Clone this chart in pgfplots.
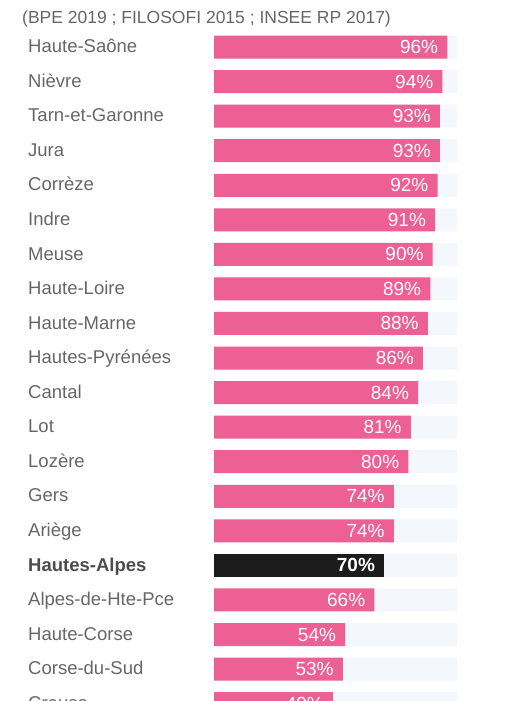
\documentclass[border=0pt]{standalone}
\usepackage{pgfplots}
\pgfplotsset{compat=1.18}
\usepackage{fontspec}
\setmainfont{Liberation Sans}

\definecolor{barpink}{HTML}{EC6093}
\definecolor{track}{HTML}{F4F8FC}
\definecolor{labelgray}{HTML}{666666}
\definecolor{hilite}{HTML}{1C1C1C}

% row index (negative = further down), share in %
\pgfplotstableread{
row val
0 96
-1 94
-2 93
-3 93
-4 92
-5 91
-6 90
-7 89
-8 88
-9 86
-10 84
-11 81
-12 80
-13 74
-14 74
-16 66
-17 54
-18 53
-19 49
}\rates

\begin{document}
\begin{tikzpicture}
\path[use as bounding box] (0,0) rectangle (530pt,701pt);
\clip (0,0) rectangle (530pt,701pt);
\node[anchor=base west, inner sep=0pt, text=labelgray, font=\fontsize{17.5}{20}\selectfont]
  at (22pt,677.5pt) {(BPE 2019 ; FILOSOFI 2015 ; INSEE RP 2017)};
\begin{axis}[
  at={(214pt,-30.3pt)}, anchor=south west,
  scale only axis, width=243pt, height=705pt,
  xmin=0, xmax=100, ymin=-19.8, ymax=0.6,
  xbar, bar width=23pt, bar shift=0pt,
  axis line style={draw=none}, major tick length=0pt,
  xtick=\empty,
  /pgf/number format/assume math mode=true,
  ytick={0,-1,...,-19},
  yticklabels={Haute-Saône,Nièvre,Tarn-et-Garonne,Jura,Corrèze,Indre,Meuse,
    Haute-Loire,Haute-Marne,Hautes-Pyrénées,Cantal,Lot,Lozère,Gers,Ariège,
    {\bfseries\color{black!70}Hautes-Alpes},Alpes-de-Hte-Pce,Haute-Corse,Corse-du-Sud,Creuse},
  yticklabel style={anchor=base west, inner sep=0pt, xshift=-186pt, yshift=-5.7pt,
    text=labelgray, font=\fontsize{18.5}{20}\selectfont},
]
\addplot[fill=track, draw=none] coordinates {
  (100,0)(100,-1)(100,-2)(100,-3)(100,-4)(100,-5)(100,-6)(100,-7)(100,-8)(100,-9)
  (100,-10)(100,-11)(100,-12)(100,-13)(100,-14)(100,-15)(100,-16)(100,-17)(100,-18)(100,-19)};
\addplot[fill=barpink, draw=none, point meta=x,
  nodes near coords={\pgfmathprintnumber{\pgfplotspointmeta}\%},
  every node near coord/.append style={anchor=base east, inner sep=0pt, xshift=-9pt, yshift=-6.5pt,
    text=white, font=\fontsize{19}{20}\selectfont}]
  table[x=val, y=row] {\rates};
\addplot[fill=hilite, draw=none, point meta=x,
  nodes near coords={\bfseries\pgfmathprintnumber{\pgfplotspointmeta}\%},
  every node near coord/.append style={anchor=base east, inner sep=0pt, xshift=-9pt, yshift=-6.5pt,
    text=white, font=\fontsize{19}{20}\selectfont}]
  coordinates {(70,-15)};
\end{axis}
\end{tikzpicture}
\end{document}
